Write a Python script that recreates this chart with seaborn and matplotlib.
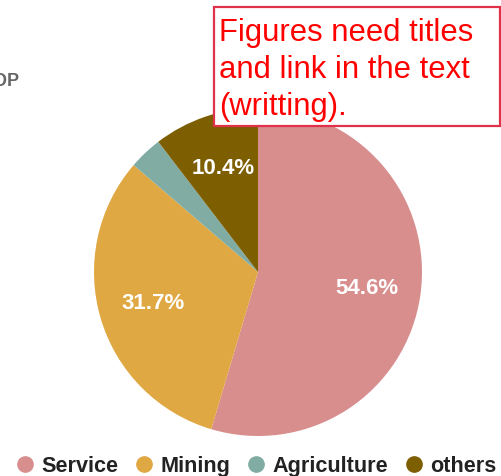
import matplotlib
matplotlib.use("Agg")
import matplotlib.pyplot as plt
from matplotlib.patches import Rectangle
from matplotlib.lines import Line2D
import seaborn as sns

sectors = ["Service", "Mining", "Agriculture", "others"]
shares = [54.6, 31.7, 3.3, 10.4]
colors = ["#d98e8e", "#e0a842", "#80aca3", "#7d5e00"]

sns.set_theme(style="white")
plt.rcParams["font.family"] = ["Liberation Sans", "DejaVu Sans"]

W, H = 502, 477
fig = plt.figure(figsize=(W / 100, H / 100), dpi=100)

# pie axes: centre (258, 273) px, radius 164 px
r = 164
cx, cy = 258, 273
ax = fig.add_axes([(cx - r) / W, (H - cy - r) / H, 2 * r / W, 2 * r / H])

palette = sns.color_palette(colors)
wedges, texts, autotexts = ax.pie(
    shares,
    colors=palette,
    startangle=90,
    counterclock=False,
    autopct=lambda p: f"{p:.1f}%" if p > 5 else "",
    pctdistance=0.67,
    textprops=dict(color="white", fontsize=16, fontweight="bold"),
    wedgeprops=dict(linewidth=0),
)
ax.set_xlim(-1, 1)
ax.set_ylim(-1, 1)
ax.set_aspect("equal")
ax.axis("off")

# heading running off the left edge
fig.text(19 / W, 1 - 81 / H, "GDP", ha="right", va="center",
         fontsize=13, fontweight="bold", color="#666666")

# red annotation box
bx0, by0, bx1, by1 = 214, 8, 500, 127
fig.patches.append(Rectangle((bx0 / W, 1 - by1 / H), (bx1 - bx0) / W, (by1 - by0) / H,
                             transform=fig.transFigure, facecolor="white",
                             edgecolor="#e0304a", linewidth=1.6, zorder=5))
note_lines = ["Figures need titles", "and link in the text", "(writting)."]
for i, line in enumerate(note_lines):
    fig.text(219 / W, 1 - (41 + 37 * i) / H, line, ha="left", va="baseline",
             fontsize=22.3, color="#ff0000", zorder=6)

# legend along the bottom
handles = [Line2D([0], [0], marker="o", linestyle="", markersize=11,
                  markerfacecolor=c, markeredgecolor=c) for c in colors]
fig.legend(handles, sectors, loc="center", bbox_to_anchor=(256 / W, 1 - 467 / H),
           ncol=4, frameon=False, handletextpad=0.3, columnspacing=0.75,
           prop=dict(weight="bold", size=15.6), labelcolor="#222222",
           handlelength=0.9, borderpad=0)

fig.savefig("out.png", dpi=100)
